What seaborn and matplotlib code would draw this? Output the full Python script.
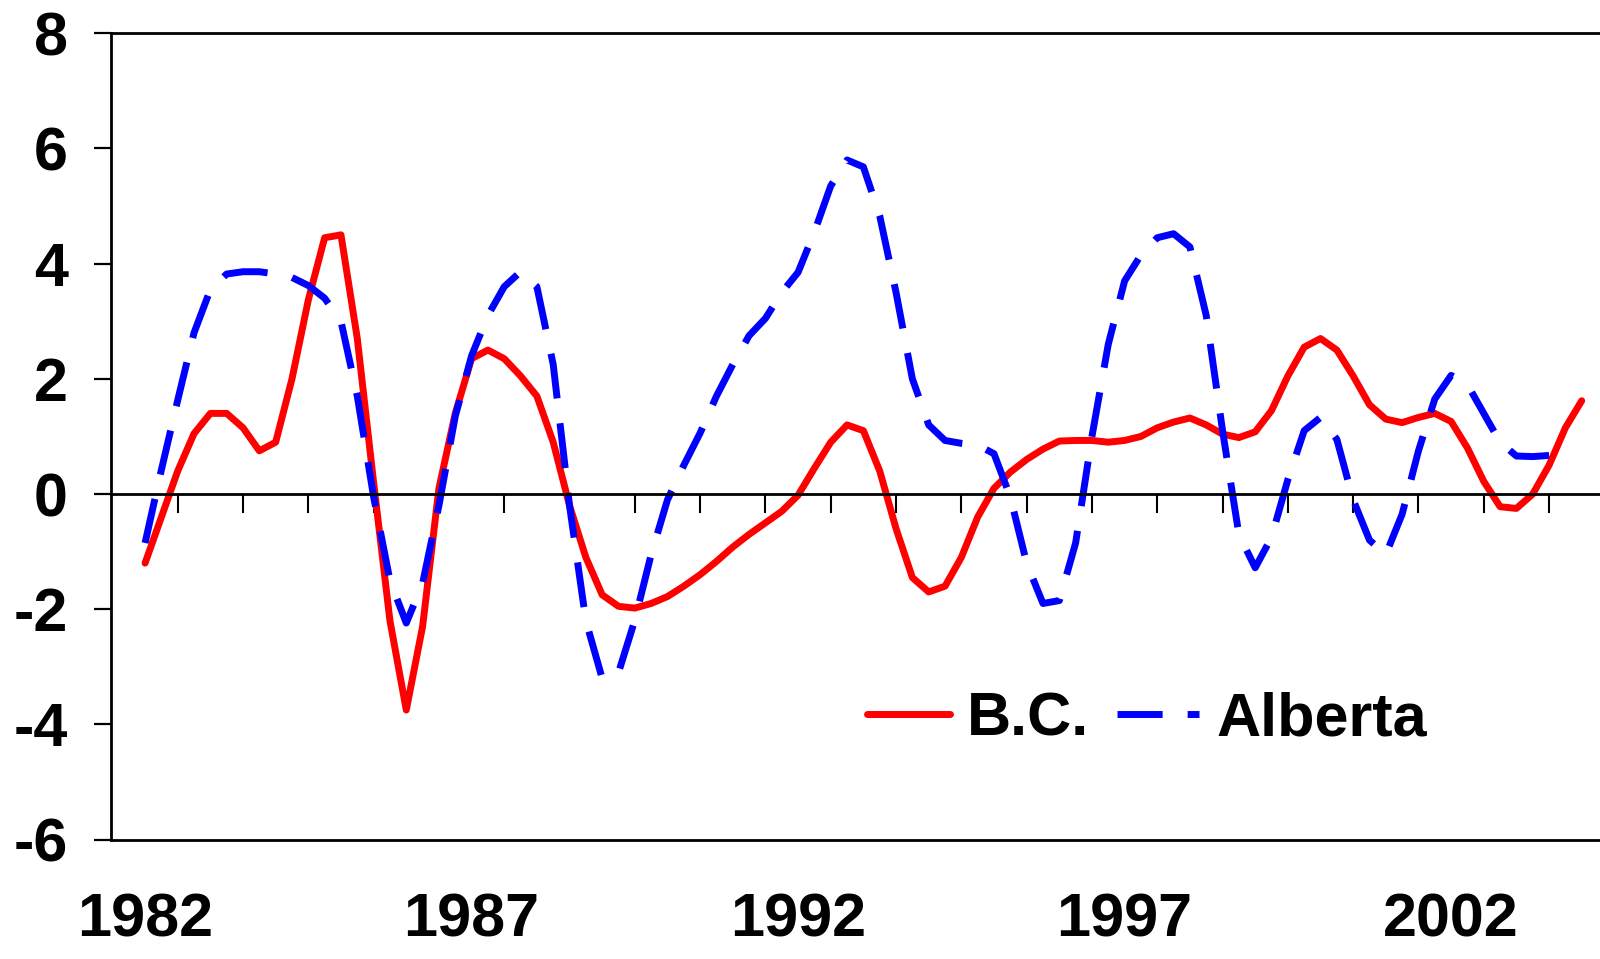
import numpy as np
import pandas as pd
import matplotlib
matplotlib.use("Agg")
import matplotlib.pyplot as plt
import seaborn as sns

# quarterly series, 1982Q1 onwards
start_year = 1982
bc = [-1.2, -0.4, 0.4, 1.05, 1.4, 1.4, 1.15, 0.75, 0.9, 2.0,
      3.37, 4.45, 4.5, 2.7, 0.2, -2.2, -3.75, -2.3, 0.1, 1.4,
      2.35, 2.5, 2.35, 2.05, 1.7, 0.9, -0.2, -1.1, -1.75, -1.95,
      -1.98, -1.9, -1.78, -1.6, -1.4, -1.17, -0.92, -0.7, -0.5, -0.3,
      -0.02, 0.45, 0.9, 1.2, 1.1, 0.4, -0.6, -1.45, -1.7, -1.6,
      -1.1, -0.4, 0.1, 0.38, 0.6, 0.78, 0.92, 0.93, 0.93, 0.9,
      0.93, 1.0, 1.15, 1.25, 1.32, 1.2, 1.04, 0.98, 1.08, 1.45,
      2.05, 2.55, 2.7, 2.5, 2.05, 1.55, 1.3, 1.24, 1.33, 1.4,
      1.26, 0.8, 0.22, -0.22, -0.25, 0.0, 0.5, 1.15, 1.62]
alberta = [-0.85, 0.42, 1.63, 2.8, 3.55, 3.82, 3.86, 3.86, 3.82, 3.76,
           3.62, 3.4, 3.0, 1.7, -0.05, -1.5, -2.24, -1.55, -0.2, 1.35,
           2.4, 3.1, 3.6, 3.86, 3.6, 2.25, -0.2, -2.2, -3.2, -3.1,
           -2.19, -1.05, -0.1, 0.5, 1.06, 1.7, 2.25, 2.75, 3.05, 3.5,
           3.85, 4.55, 5.35, 5.8, 5.68, 4.83, 3.5, 2.0, 1.2, 0.93,
           0.88, 0.85, 0.7, -0.05, -1.2, -1.9, -1.85, -0.85, 1.0, 2.6,
           3.7, 4.15, 4.45, 4.52, 4.29, 3.1, 1.1, -0.7, -1.28, -0.75,
           0.25, 1.1, 1.33, 0.95, -0.1, -0.8, -1.05, -0.35, 0.75, 1.65,
           2.06, 1.9, 1.4, 0.9, 0.66, 0.65, 0.67]
year_labels = [1982, 1987, 1992, 1997, 2002]
y_ticks = [8, 6, 4, 2, 0, -2, -4, -6]

t_bc = start_year + np.arange(len(bc)) / 4
t_ab = start_year + np.arange(len(alberta)) / 4
df = pd.concat([
    pd.DataFrame({"t": t_bc, "v": bc, "region": "B.C."}),
    pd.DataFrame({"t": t_ab, "v": alberta, "region": "Alberta"}),
])

sns.set_style("white")
plt.rcParams["font.family"] = ["Liberation Sans", "DejaVu Sans"]
plt.rcParams["font.weight"] = "bold"
plt.rcParams["axes.unicode_minus"] = False
plt.rcParams["text.color"] = "black"
plt.rcParams["xtick.color"] = "black"
plt.rcParams["ytick.color"] = "black"
plt.rcParams["axes.labelcolor"] = "black"

fs = 44
fig = plt.figure(figsize=(16, 9.59), dpi=100)
ax = fig.add_axes([0.0694, 0.1245, 0.9306, 0.8408])

sns.lineplot(data=df, x="t", y="v", hue="region", style="region",
             palette={"B.C.": "#ff0000", "Alberta": "#0000ff"},
             dashes={"B.C.": "", "Alberta": (6.5, 3.6)},
             linewidth=5, ax=ax, sort=False, estimator=None)
for ln in ax.get_lines():
    ln.set_solid_joinstyle("round")
    ln.set_dash_joinstyle("round")

ax.set_xlim(1981.479, 2004.28)
ax.set_ylim(-6, 8)
ax.set_xlabel("")
ax.set_ylabel("")

# y axis
ax.set_yticks(y_ticks)
ax.set_yticklabels([str(v) for v in y_ticks], fontsize=fs, fontweight="bold")
ax.tick_params(axis="y", direction="out", length=12, width=1.6, pad=19,
               left=True, colors="black")

# x axis drawn along zero with ticks between years
ax.spines["bottom"].set_position(("data", 0))
ax.set_xticks(np.arange(1982.5, 2004, 1.0))
ax.tick_params(axis="x", direction="out", length=14, width=1.5,
               bottom=True, labelbottom=False)
for s in ["left", "top", "bottom"]:
    ax.spines[s].set_linewidth(2)
    ax.spines[s].set_color("black")
ax.spines["right"].set_visible(False)

# frame bottom with year labels
sec = ax.secondary_xaxis(0)
sec.set_xticks(year_labels)
sec.set_xticklabels([str(y) for y in year_labels], fontsize=fs, fontweight="bold")
sec.tick_params(axis="x", length=0, pad=38)
sec.spines["bottom"].set_linewidth(2)
sec.spines["bottom"].set_color("black")

handles, labels = ax.get_legend_handles_labels()
ax.legend(handles, labels, loc="center left", bbox_to_anchor=(0.508, 0.148),
          ncol=2, frameon=False, handlelength=1.35,
          handletextpad=0.28, columnspacing=0.45, borderpad=0, borderaxespad=0,
          prop={"weight": "bold", "size": fs})

fig.savefig("out.png", dpi=100)
